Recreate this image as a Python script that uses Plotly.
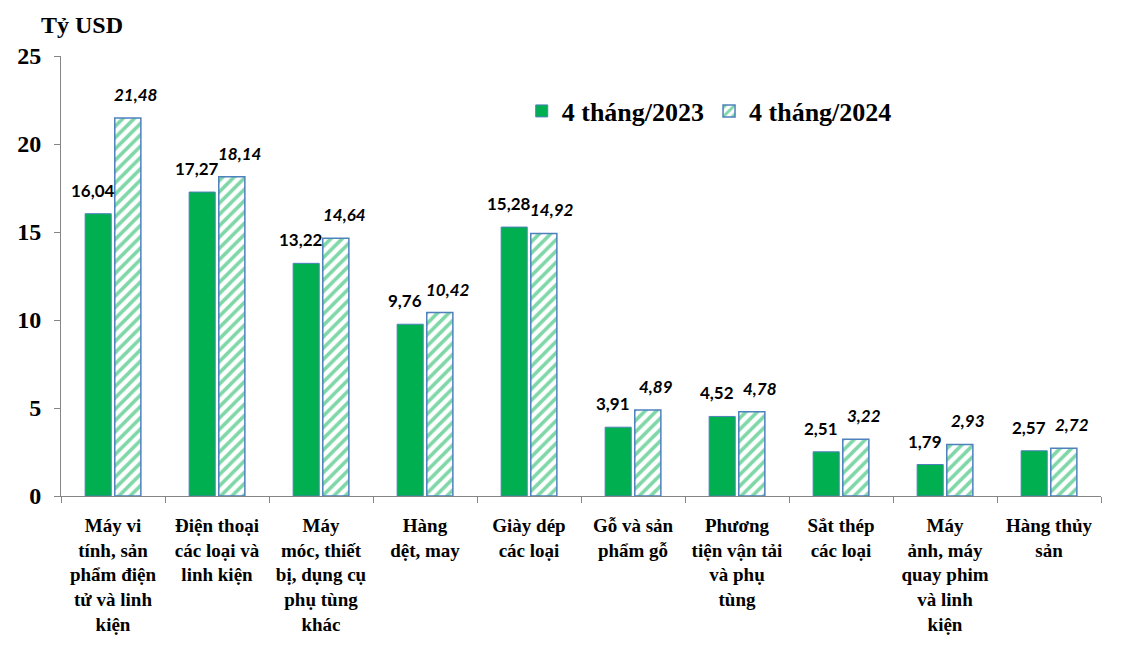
import plotly.graph_objects as go

categories = [
    "Máy vi<br>tính, sản<br>phẩm điện<br>tử và linh<br>kiện",
    "Điện thoại<br>các loại và<br>linh kiện",
    "Máy<br>móc, thiết<br>bị, dụng cụ<br>phụ tùng<br>khác",
    "Hàng<br>dệt, may",
    "Giày dép<br>các loại",
    "Gỗ và sản<br>phẩm gỗ",
    "Phương<br>tiện vận tải<br>và phụ<br>tùng",
    "Sắt thép<br>các loại",
    "Máy<br>ảnh, máy<br>quay phim<br>và linh<br>kiện",
    "Hàng thủy<br>sản",
]
values_2023 = [16.04, 17.27, 13.22, 9.76, 15.28, 3.91, 4.52, 2.51, 1.79, 2.57]
values_2024 = [21.48, 18.14, 14.64, 10.42, 14.92, 4.89, 4.78, 3.22, 2.93, 2.72]
series_names = ["4 tháng/2023", "4 tháng/2024"]
y_ticks = [0, 5, 10, 15, 20, 25]

GREEN = "#00B050"
BLUE = "#4F81BD"
AXIS = "#868686"

def fmt(v):
    return f"{v:.2f}".replace(".", ",")

fig = go.Figure()
fig.add_trace(go.Bar(
    x=categories, y=values_2023, name=series_names[0],
    marker=dict(color=GREEN, line=dict(color=BLUE, width=1)),
))
fig.add_trace(go.Bar(
    x=categories, y=values_2024, name=series_names[1],
    marker=dict(color="white", line=dict(color=BLUE, width=1.5),
                pattern=dict(shape="/", fgcolor=GREEN, bgcolor="white", size=8, solidity=0.45)),
))

# value labels
for cat, v in zip(categories, values_2023):
    fig.add_annotation(x=cat, y=v, xref="x", yref="y", text=fmt(v), showarrow=False,
                       xshift=-20, yanchor="bottom", yshift=11,
                       font=dict(family="Lato", size=17, color="black", weight="bold"))
for cat, v in zip(categories, values_2024):
    fig.add_annotation(x=cat, y=v, xref="x", yref="y", text=f"<i>{fmt(v)}</i>", showarrow=False,
                       xshift=23, yanchor="bottom", yshift=11,
                       font=dict(family="Lato", size=17, color="black", weight="bold"))

fig.add_annotation(text="Tỷ USD", xref="paper", yref="paper", x=0, y=1, xshift=-22, yshift=31,
                   xanchor="left", yanchor="middle", showarrow=False,
                   font=dict(family="Liberation Serif", size=24, color="black", weight="bold"))

fig.update_layout(
    width=1141, height=670,
    margin=dict(l=61, r=40, t=56, b=174),
    paper_bgcolor="white", plot_bgcolor="white",
    barmode="group", bargap=0.43, bargroupgap=0.12,
    showlegend=True,
    legend=dict(orientation="h", x=0.443, y=0.875, xanchor="left", yanchor="middle",
                font=dict(family="Liberation Serif", size=26, color="black", weight="bold"),
                itemwidth=30, tracegroupgap=0, bgcolor="rgba(0,0,0,0)"),
    font=dict(family="Liberation Serif", color="black"),
)
fig.update_xaxes(
    showline=True, linecolor=AXIS, linewidth=1, automargin=False,
    ticks="outside", tickson="boundaries", ticklen=6, tickcolor=AXIS,
    ticklabelstandoff=12,
    tickfont=dict(family="Liberation Serif", size=19, color="black", weight="bold"),
    showgrid=False, tickangle=0,
)
fig.update_yaxes(
    range=[0, 25], tickvals=y_ticks, showline=True, linecolor=AXIS, linewidth=1, automargin=False,
    ticks="outside", ticklen=6, tickcolor=AXIS, showgrid=False, zeroline=False,
    ticklabelstandoff=8,
    tickfont=dict(family="Liberation Serif", size=24, color="black", weight="bold"),
)

fig.write_html("out.html", config={"displayModeBar": False},
               post_script="document.body.style.margin='0';")
